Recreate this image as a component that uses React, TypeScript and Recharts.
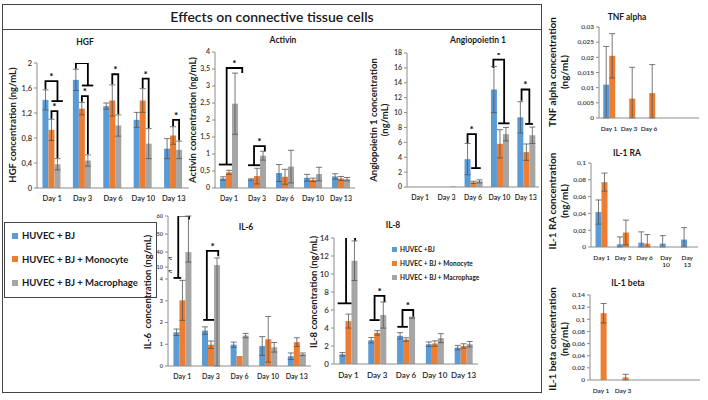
import React from 'react';
import { BarChart, Bar, XAxis, YAxis, ErrorBar } from 'recharts';

const BLUE = '#5b9bd5';
const ORANGE = '#ed7d31';
const GRAY = '#a5a5a5';
const FONT = 'Lato, "Open Sans", sans-serif';

const days = ['Day 1', 'Day 3', 'Day 6', 'Day 10', 'Day 13'];
const legendNames = ['HUVEC + BJ', 'HUVEC + BJ + Monocyte', 'HUVEC + BJ + Macrophage'];
const il8LegendNames = ['HUVEC +BJ', 'HUVEC + BJ + Monocyte', 'HUVEC + BJ + Macrophage'];

// HGF (ng/mL)
const hgfBj = [1.41, 1.73, 1.31, 1.09, 0.63];
const hgfBjSd = [0.16, 0.17, 0.05, 0.12, 0.16];
const hgfMono = [0.93, 1.27, 1.4, 1.4, 0.84];
const hgfMonoSd = [0.17, 0.1, 0.25, 0.19, 0.14];
const hgfMacro = [0.38, 0.44, 1.0, 0.71, 0.61];
const hgfMacroSd = [0.09, 0.09, 0.17, 0.24, 0.14];
const hgfTicks = [0, 0.2, 0.4, 0.6, 0.8, 1, 1.2, 1.4, 1.6, 1.8, 2];

// Activin
const actBj = [0.28, 0.25, 0.44, 0.3, 0.34];
const actBjSd = [0.05, 0.02, 0.25, 0.1, 0.08];
const actMono = [0.46, 0.35, 0.33, 0.24, 0.28];
const actMonoSd = [0.06, 0.23, 0.22, 0.05, 0.06];
const actMacro = [2.48, 0.95, 0.63, 0.41, 0.26];
const actMacroSd = [0.9, 0.13, 0.48, 0.2, 0.05];
const actTicks = [0, 0.5, 1, 1.5, 2, 2.5, 3, 3.5, 4];

// Angiopoietin 1
const angBj = [0, 0, 3.74, 13.1, 9.36];
const angBjSd = [null, null, 2.1, 3.1, 2.1];
const angMono = [0, 0, 0.62, 5.8, 4.68];
const angMonoSd = [null, null, 0.15, 1.9, 1.1];
const angMacro = [0, 0.08, 0.76, 7.1, 6.95];
const angMacroSd = [null, null, 0.2, 0.9, 1.1];
const angTicks = [0, 2, 4, 6, 8, 10, 12, 14, 16, 18];

// IL-6 (broken axis)
const il6Bj = [1.55, 1.63, 0.98, 0.92, 0.45];
const il6BjSd = [0.15, 0.17, 0.12, 0.43, 0.15];
const il6Mono = [3.02, 0.98, 0.46, 1.23, 1.1];
const il6MonoSd = [0.92, 0.17, null, 1.05, 0.2];
const il6Macro = [40, 13.9, 1.4, 0.86, 0.54];
const il6MacroSd = [20, 14.4, 0.1, 0.22, 0.06];
const il6TickValues = [0, 0.5, 1, 1.5, 2, 2.5, 3, 3.5, 4, 10, 40, 50, 60];
const il6AxisBreaks = [[0, 0], [4, 4], [10, 4.55], [40, 5.24], [60, 6.9]];

// IL-8
const il8Bj = [1.08, 2.64, 3.13, 2.2, 1.82];
const il8BjSd = [0.2, 0.3, 0.35, 0.25, 0.25];
const il8Mono = [4.77, 3.46, 2.72, 2.27, 2.0];
const il8MonoSd = [0.78, 0.25, 0.2, 0.3, 0.25];
const il8Macro = [11.47, 5.44, 5.14, 2.87, 2.2];
const il8MacroSd = [2.2, 1.45, 0.05, 0.5, 0.3];
const il8Ticks = [0, 2, 4, 6, 8, 10, 12, 14];

// TNF alpha
const tnfDays = ['Day 1', 'Day 3', 'Day 6', '', ''];
const tnfBj = [0.011, 0, 0, 0, 0];
const tnfBjSd = [0.0126, null, null, null, null];
const tnfMono = [0.0205, 0.0064, 0.0082, 0, 0];
const tnfMonoSd = [0.0073, 0.0103, 0.0094, null, null];
const tnfTicks = [0, 0.005, 0.01, 0.015, 0.02, 0.025, 0.03];

// IL-1 RA
const raBj = [0.0416, 0.0032, 0.0052, 0.004, 0.0088];
const raBjSd = [0.0144, 0.0088, 0.0128, 0.0095, 0.0142];
const raMono = [0.0772, 0.0172, 0.004, 0, 0];
const raMonoSd = [0.0108, 0.0148, 0.0108, null, null];
const raTicks = [0, 0.02, 0.04, 0.06, 0.08, 0.1];

// IL-1 beta
const betaDays = ['Day 1', 'Day 3', '', '', ''];
const betaBj = [0, 0, 0, 0, 0];
const betaMono = [0.11, 0.0044, 0, 0, 0];
const betaMonoSd = [0.016, 0.005, null, null, null];
const betaTicks = [0, 0.02, 0.04, 0.06, 0.08, 0.1, 0.12, 0.14];

// significance brackets: x in bar slots (0 = first bar of the group), y in axis units
type Br = { day: number; x1: number; x2: number; y1: number; top: number; y2: number; foot?: [number, number, 'L' | 'R'] };

const hgfBr: Br[] = [
  { day: 0, x1: 0, x2: 2, y1: 1.58, top: 1.71, y2: 1.39, foot: [1, 2.9, 'R'] },
  { day: 0, x1: 1, x2: 2, y1: 1.11, top: 1.23, y2: 0.48 },
  { day: 1, x1: 0, x2: 2, y1: 1.91, top: 2.0, y2: 1.64, foot: [1, 2.9, 'R'] },
  { day: 1, x1: 1, x2: 2, y1: 1.38, top: 1.47, y2: 0.54 },
  { day: 2, x1: 1, x2: 2, y1: 1.66, top: 1.82, y2: 1.18 },
  { day: 3, x1: 1, x2: 2, y1: 1.6, top: 1.75, y2: 0.96 },
  { day: 4, x1: 1, x2: 2, y1: 0.99, top: 1.09, y2: 0.76 },
];
const actBr: Br[] = [
  { day: 0, x1: 0.6, x2: 3.2, y1: 0.69, top: 3.53, y2: 3.38, foot: [-0.7, 1.5, 'L'] },
  { day: 1, x1: 0.5, x2: 2.3, y1: 0.67, top: 1.23, y2: 1.08, foot: [-0.5, 1.5, 'L'] },
];
const angBr: Br[] = [
  { day: 2, x1: 0, x2: 1.4, y1: 5.9, top: 7.1, y2: 2.54, foot: [0.6, 2.2, 'R'] },
  { day: 3, x1: -0.1, x2: 1.7, y1: 16.0, top: 17.1, y2: 8.55, foot: [0.7, 2.6, 'R'] },
  { day: 4, x1: 0.2, x2: 1.5, y1: 11.6, top: 13.1, y2: 8.47, foot: [0.8, 2.1, 'R'] },
];
const il6Br: Br[] = [
  { day: 0, x1: 0.3, x2: 2.1, y1: 4.05, top: 6.92, y2: 6.74, foot: [-0.5, 0.8, 'L'] },
  { day: 1, x1: 0.3, x2: 2.2, y1: 2.12, top: 5.3, y2: 5.05, foot: [-0.3, 1.5, 'L'] },
];
const il8Br: Br[] = [
  { day: 0, x1: 0.6, x2: 2.1, y1: 6.74, top: 14.4, y2: 13.7, foot: [-0.8, 1.5, 'L'] },
  { day: 1, x1: 0.55, x2: 2.2, y1: 4.88, top: 7.56, y2: 6.9, foot: [-0.3, 1.4, 'L'] },
  { day: 2, x1: 0.4, x2: 2.2, y1: 4.13, top: 6.0, y2: 5.25, foot: [-0.45, 1.3, 'L'] },
];

const il6Scale = (v: number) => {
  for (let i = 1; i < il6AxisBreaks.length; i++) {
    const [a0, d0] = il6AxisBreaks[i - 1];
    const [a1, d1] = il6AxisBreaks[i];
    if (v <= a1) return d0 + ((v - a0) * (d1 - d0)) / (a1 - a0);
  }
  return il6AxisBreaks[il6AxisBreaks.length - 1][1];
};

const comma = (v: number) => String(v).replace('.', ',');

type Series = { values: number[]; sd: (number | null)[]; color: string };

function buildRows(labels: string[], series: Series[], t: (v: number) => number) {
  return labels.map((name, i) => {
    const row: any = { name };
    series.forEach((s, j) => {
      const v = s.values[i];
      const e = s.sd[i];
      row['s' + j] = t(v);
      row['e' + j] = e == null ? null : [t(v) - t(Math.max(v - e, 0)), t(v + e) - t(v)];
    });
    return row;
  });
}

const DayTick = (p: any) => {
  const { x, y, payload, fs, wrap } = p;
  const v: string = payload.value;
  const lines = wrap && v.length > 5 ? v.split(' ') : [v];
  return (
    <text x={x} y={y + 4} textAnchor="middle" fontSize={fs} fontFamily={FONT} fontWeight={600} fill="#222">
      {lines.map((l, i) => (
        <tspan key={i} x={x} dy={i === 0 ? '0.71em' : '1.15em'}>
          {l}
        </tspan>
      ))}
    </text>
  );
};

const bracketShape = (brs: Br[], fill: string, n: number) => (p: any) => {
  const { x, y, width, height, index, payload } = p;
  const v = payload['s' + (n - 1)];
  const parts: any[] = [<rect key="r" x={x} y={y} width={width} height={Math.max(height, 0)} fill={fill} />];
  const list = brs.filter((b) => b.day === index);
  if (list.length && v > 0) {
    const base = y + height;
    const k = height / v;
    const Y = (val: number) => base - val * k;
    const X = (s: number) => x + width / 2 + (s - (n - 1)) * width;
    list.forEach((b, i) => {
      const d = `M${X(b.x1)},${Y(b.y1)} V${Y(b.top)} H${X(b.x2)} V${Y(b.y2)}`;
      parts.push(<path key={'b' + i} d={d} fill="none" stroke="#000" strokeWidth={1.8} />);
      if (b.foot) {
        const fy = b.foot[2] === 'L' ? Y(b.y1) : Y(b.y2);
        parts.push(<path key={'f' + i} d={`M${X(b.foot[0])},${fy} H${X(b.foot[1])}`} stroke="#000" strokeWidth={1.8} />);
      }
      parts.push(
        <text key={'t' + i} x={(X(b.x1) + X(b.x2)) / 2} y={Y(b.top) - 1} textAnchor="middle" fontSize={10} fontWeight={700} fontFamily={FONT} fill="#000">
          *
        </text>
      );
    });
  }
  return <g>{parts}</g>;
};

type PanelProps = {
  px: number; py: number; pw: number; ph: number;
  labels: string[];
  series: Series[];
  max: number;
  ticks: number[];
  fmt?: (v: number) => string;
  t?: (v: number) => number;
  brackets?: Br[];
  gap: string;
  fs: number;
  xfs?: number;
  wrap?: boolean;
};

function Panel({ px, py, pw, ph, labels, series, max, ticks, fmt = comma, t = (v) => v, brackets, gap, fs, xfs, wrap }: PanelProps) {
  const rows = buildRows(labels, series, t);
  const W = pw + 50;
  const H = ph + 50;
  const n = series.length;
  return (
    <div style={{ position: 'absolute', left: px - 40, top: py - 25, width: W, height: H }}>
      <BarChart width={W} height={H} data={rows} margin={{ top: 25, right: 10, left: 0, bottom: 0 }} barGap={0} barCategoryGap={gap}>
        <XAxis
          dataKey="name"
          height={25}
          interval={0}
          tickLine={false}
          tickSize={2}
          axisLine={{ stroke: '#8c8c8c' }}
          tick={(p: any) => <DayTick {...p} fs={xfs ?? fs} wrap={wrap} />}
        />
        <YAxis
          width={40}
          domain={[0, max]}
          ticks={ticks}
          allowDataOverflow
          tickFormatter={fmt}
          tickSize={3}
          tickMargin={2}
          axisLine={{ stroke: '#8c8c8c' }}
          tickLine={{ stroke: '#8c8c8c' }}
          tick={{ fontSize: fs, fill: '#333', fontFamily: FONT, fontWeight: 600 }}
        />
        {series.map((s, j) => (
          <Bar
            key={j}
            dataKey={'s' + j}
            fill={s.color}
            isAnimationActive={false}
            shape={brackets && j === n - 1 ? bracketShape(brackets, s.color, n) : undefined}
          >
            <ErrorBar dataKey={'e' + j} width={3} stroke="#555" strokeWidth={0.8} />
          </Bar>
        ))}
      </BarChart>
    </div>
  );
}

function Txt({ x, y, children, size = 9, weight = 700, rotate = false }: any) {
  return (
    <div
      style={{
        position: 'absolute',
        left: x,
        top: y,
        transform: `translate(-50%, -50%)${rotate ? ' rotate(-90deg)' : ''}`,
        fontSize: size,
        fontWeight: weight,
        fontFamily: FONT,
        whiteSpace: 'pre',
        textAlign: 'center',
        lineHeight: 1.2,
        color: '#1a1a1a',
      }}
    >
      {children}
    </div>
  );
}

const colors = [BLUE, ORANGE, GRAY];

export default function App() {
  const il6Ticks = il6TickValues.map(il6Scale);
  const il6Fmt = (d: number) => {
    const i = il6Ticks.findIndex((x) => Math.abs(x - d) < 1e-6);
    return i >= 0 ? comma(il6TickValues[i]) : '';
  };
  return (
    <div style={{ position: 'absolute', left: 0, top: 0, width: 708, height: 400, background: '#fff', overflow: 'hidden' }}>
      {/* frames */}
      <div style={{ position: 'absolute', left: 2, top: 4, width: 538, height: 387, border: '1px solid #444' }} />
      <div style={{ position: 'absolute', left: 2, top: 29, width: 539, height: 1, background: '#444' }} />
      <div style={{ position: 'absolute', left: 4, top: 222, width: 151, height: 74, border: '1px solid #444' }} />

      <Txt x={272} y={17} size={14} weight={600}>Effects on connective tissue cells</Txt>

      <Txt x={85} y={42} size={8.5}>HGF</Txt>
      <Txt x={283} y={40} size={8.5}>Activin</Txt>
      <Txt x={478} y={40} size={8.5}>Angiopoietin 1</Txt>
      <Txt x={246} y={227} size={8.5}>IL-6</Txt>
      <Txt x={393} y={225} size={8.5}>IL-8</Txt>
      <Txt x={627} y={17} size={8.5}>TNF alpha</Txt>
      <Txt x={627} y={153} size={8.5}>IL-1 RA</Txt>
      <Txt x={628} y={283} size={8.5}>IL-1 beta</Txt>

      <Txt x={13} y={125} size={9.5} rotate>HGF concentration (ng/mL)</Txt>
      <Txt x={193} y={120} size={9.5} rotate>Activin concentration (ng/mL)</Txt>
      <Txt x={379} y={120} size={9.5} rotate>{'Angiopoietin 1 concentration\n(ng/mL)'}</Txt>
      <Txt x={148} y={292} size={9.5} rotate>{'IL-6  concentration (ng/mL)'}</Txt>
      <Txt x={314} y={292} size={9.5} rotate>IL-8 concentration (ng/mL)</Txt>
      <Txt x={558} y={72} size={10} rotate>{'TNF alpha concentration\n(ng/mL)'}</Txt>
      <Txt x={558} y={201} size={10} rotate>{'IL-1 RA concentration\n(ng/mL)'}</Txt>
      <Txt x={558} y={339} size={10} rotate>{'IL-1 beta concentration\n(ng/mL)'}</Txt>

      {/* legend box */}
      {legendNames.map((nm, i) => (
        <div key={nm} style={{ position: 'absolute', left: 12, top: 230 + i * 23.5, display: 'flex', alignItems: 'center', fontFamily: FONT, fontSize: 9.5, fontWeight: 700, color: '#1a1a1a' }}>
          <span style={{ display: 'inline-block', width: 6, height: 6, background: colors[i], marginRight: 4 }} />
          {nm}
        </div>
      ))}
      {/* IL-8 legend */}
      {il8LegendNames.map((nm, i) => (
        <div key={nm} style={{ position: 'absolute', left: 392, top: 246 + i * 14, display: 'flex', alignItems: 'center', fontFamily: FONT, fontSize: 6.5, fontWeight: 700, color: '#1a1a1a' }}>
          <span style={{ display: 'inline-block', width: 5, height: 5, background: colors[i], marginRight: 3 }} />
          {nm}
        </div>
      ))}

      {/* IL-6 axis break marks */}
      <Txt x={170} y={259} size={9} weight={400}>≈</Txt>
      <Txt x={170} y={272} size={9} weight={400}>≈</Txt>

      <Panel px={37} py={63} pw={152} ph={125} labels={days} max={2} ticks={hgfTicks} gap="18%" fs={7.5} brackets={hgfBr}
        series={[{ values: hgfBj, sd: hgfBjSd, color: BLUE }, { values: hgfMono, sd: hgfMonoSd, color: ORANGE }, { values: hgfMacro, sd: hgfMacroSd, color: GRAY }]} />
      <Panel px={215} py={52} pw={140} ph={136} labels={days} max={4} ticks={actTicks} gap="18%" fs={7} brackets={actBr}
        series={[{ values: actBj, sd: actBjSd, color: BLUE }, { values: actMono, sd: actMonoSd, color: ORANGE }, { values: actMacro, sd: actMacroSd, color: GRAY }]} />
      <Panel px={407} py={53} pw={132} ph={134} labels={days} max={18} ticks={angTicks} gap="18%" fs={7} brackets={angBr}
        series={[{ values: angBj, sd: angBjSd, color: BLUE }, { values: angMono, sd: angMonoSd, color: ORANGE }, { values: angMacro, sd: angMacroSd, color: GRAY }]} />
      <Panel px={168} py={216} pw={143} ph={150} labels={days} max={6.9} ticks={il6Ticks} fmt={il6Fmt} t={il6Scale} gap="19%" fs={5.5} xfs={7} brackets={il6Br}
        series={[{ values: il6Bj, sd: il6BjSd, color: BLUE }, { values: il6Mono, sd: il6MonoSd, color: ORANGE }, { values: il6Macro, sd: il6MacroSd, color: GRAY }]} />
      <Panel px={334} py={238} pw={144} ph={126} labels={days} max={14} ticks={il8Ticks} gap="19%" fs={8} xfs={8} brackets={il8Br}
        series={[{ values: il8Bj, sd: il8BjSd, color: BLUE }, { values: il8Mono, sd: il8MonoSd, color: ORANGE }, { values: il8Macro, sd: il8MacroSd, color: GRAY }]} />
      <Panel px={599} py={27} pw={100} ph={91} labels={tnfDays} max={0.03} ticks={tnfTicks} gap="21%" fs={6.5}
        series={[{ values: tnfBj, sd: tnfBjSd, color: BLUE }, { values: tnfMono, sd: tnfMonoSd, color: ORANGE }]} />
      <Panel px={591} py={163} pw={107} ph={84} labels={days} max={0.1} ticks={raTicks} gap="21%" fs={6.5} wrap
        series={[{ values: raBj, sd: raBjSd, color: BLUE }, { values: raMono, sd: raMonoSd, color: ORANGE }]} />
      <Panel px={590} py={295} pw={110} ph={85} labels={betaDays} max={0.14} ticks={betaTicks} gap="21%" fs={6.5}
        series={[{ values: betaBj, sd: betaBj.map(() => null), color: BLUE }, { values: betaMono, sd: betaMonoSd, color: ORANGE }]} />
    </div>
  );
}
